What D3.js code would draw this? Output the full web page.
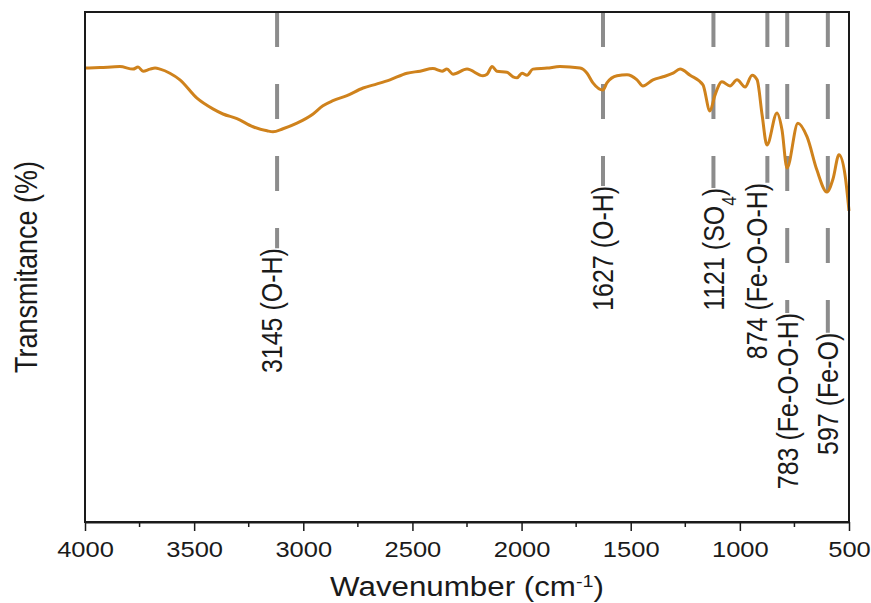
<!DOCTYPE html>
<html>
<head>
<meta charset="utf-8">
<title>FTIR spectrum</title>
<script src="https://cdn.jsdelivr.net/npm/d3@7"></script>
<style>
  body { margin: 0; background: #fff; }
  text { font-family: "Liberation Sans", Arial, sans-serif; fill: #1a1a1a; }
</style>
</head>
<body>
<svg id="chart" width="871" height="603"></svg>
<script>
// spectrum: wavenumber (cm-1) and transmittance (arbitrary %)
const wavenumber = [4000, 3931, 3840, 3780, 3757, 3734, 3702, 3679, 3656, 3611, 3565, 3487, 3414, 3368,
  3304, 3230, 3166, 3139, 3093, 3029, 2955, 2910, 2864, 2800, 2726, 2662, 2603, 2525, 2465, 2406,
  2364, 2342, 2314, 2250, 2177, 2158, 2135, 2113, 2067, 2039, 2021, 1998, 1975, 1948, 1883, 1824,
  1732, 1700, 1673, 1627, 1609, 1563, 1517, 1471, 1444, 1398, 1352, 1306, 1274, 1228, 1169, 1137,
  1114, 1082, 1045, 1013, 976, 944, 921, 898, 876, 830, 807, 784, 734, 692, 647, 601, 573, 546,
  518, 500];
const transmittance = [89.0, 89.1, 89.3, 88.8, 89.2, 88.4, 88.8, 89.0, 88.8, 88.0, 86.7, 83.1, 81.0, 80.0,
  79.1, 77.5, 76.7, 76.5, 77.1, 78.2, 80.0, 81.6, 82.6, 83.6, 85.1, 85.9, 86.7, 88.0, 88.4, 88.9,
  88.4, 88.8, 87.8, 88.8, 87.5, 87.8, 89.3, 88.4, 88.2, 87.3, 87.1, 88.0, 87.6, 88.8, 89.0, 89.3,
  89.0, 88.0, 86.1, 84.7, 86.1, 87.5, 87.7, 86.7, 85.5, 86.7, 87.3, 88.0, 88.8, 87.6, 85.7, 80.6,
  83.7, 86.3, 85.5, 86.7, 85.3, 87.6, 86.7, 79.8, 73.9, 80.2, 76.9, 69.4, 78.2, 75.5, 69.0, 64.7,
  67.3, 72.0, 68.0, 61.0];

// band assignments
const peakLabels = ["3145 (O-H)", "1627 (O-H)", "1121 (SO_4)", "874 (Fe-O-O-H)", "783 (Fe-O-O-H)", "597 (Fe-O)"];
const peakLine = [3120, 1627, 1121, 874, 783, 597];   // where the dashed marker sits
const peakText = [3145, 1627, 1121, 924, 783, 597];   // where the label sits
const peakTop = [53.7, 65.9, 65.5, 66.5, 41.0, 37.1]; // marker stops / label starts here

const xTicks = [4000, 3500, 3000, 2500, 2000, 1500, 1000, 500];
const xMinor = [3750, 3250, 2750, 2250, 1750, 1250, 750];

const svg = d3.select("#chart");
const plot = { left: 85, right: 849, top: 12, bottom: 522 };
const stretch = 1.16; // text in the figure is a little wide

const x = d3.scaleLinear().domain([4000, 500]).range([plot.left, plot.right]);
const y = d3.scaleLinear().domain([0, 100]).range([plot.bottom, plot.top]);

// dashed band markers
svg.selectAll(".marker")
  .data(peakLine)
  .enter().append("line")
    .attr("class", "marker")
    .attr("x1", d => x(d))
    .attr("x2", d => x(d))
    .attr("y1", plot.top)
    .attr("y2", (d, i) => y(peakTop[i]))
    .attr("stroke", "#8c8c8c")
    .attr("stroke-width", 4)
    .attr("stroke-dasharray", "35,37");

// band labels, reading upward
const labels = svg.selectAll(".peak")
  .data(peakLabels)
  .enter().append("text")
    .attr("class", "peak")
    .attr("text-anchor", "end")
    .style("font-size", "25px")
    .attr("transform", (d, i) =>
      "translate(" + (x(peakText[i]) + 10.5) + "," + y(peakTop[i]) + ") scale(" + stretch + ",1) rotate(-90)");
labels.each(function(d) {
  const parts = d.split(/_(\d)/);
  const t = d3.select(this);
  parts.forEach(function(p, k) {
    if (k % 2) {
      t.append("tspan").attr("baseline-shift", "sub").style("font-size", "17px").text(p);
    } else {
      t.append("tspan").text(p);
    }
  });
});

// spectrum
const line = d3.line()
  .x(d => x(d[0]))
  .y(d => y(d[1]))
  .curve(d3.curveMonotoneX);
svg.append("path")
  .datum(d3.zip(wavenumber, transmittance))
  .attr("d", line)
  .attr("fill", "none")
  .attr("stroke", "#cf821c")
  .attr("stroke-width", 3)
  .attr("stroke-linejoin", "round");

// frame
svg.append("rect")
  .attr("x", plot.left).attr("y", plot.top)
  .attr("width", plot.right - plot.left).attr("height", plot.bottom - plot.top)
  .attr("fill", "none")
  .attr("stroke", "#1a1a1a")
  .attr("stroke-width", 2);

// x axis
const gx = svg.append("g")
  .attr("transform", "translate(0," + plot.bottom + ")")
  .call(d3.axisBottom(x).tickValues(xTicks).tickSize(9).tickSizeOuter(0).tickFormat(d3.format("d")));
gx.select(".domain").attr("stroke", "#1a1a1a").attr("stroke-width", 2);
gx.selectAll(".tick line").attr("stroke", "#1a1a1a").attr("stroke-width", 1.5);
gx.selectAll(".tick text")
  .attr("y", 0).attr("dy", null)
  .attr("transform", "translate(0,35) scale(" + stretch + ",1)")
  .attr("fill", "#1a1a1a")
  .style("font-size", "22px")
  .style("font-family", "'Liberation Sans', Arial, sans-serif");
svg.append("g")
  .attr("transform", "translate(0," + plot.bottom + ")")
  .selectAll("line")
  .data(xMinor)
  .enter().append("line")
    .attr("x1", d => x(d)).attr("x2", d => x(d))
    .attr("y1", 0).attr("y2", 5)
    .attr("stroke", "#1a1a1a")
    .attr("stroke-width", 1.5);

// axis titles
const xTitle = svg.append("text")
  .attr("text-anchor", "middle")
  .attr("transform", "translate(" + ((plot.left + plot.right) / 2) + ",596) scale(" + stretch + ",1)")
  .style("font-size", "27px");
xTitle.append("tspan").text("Wavenumber (cm");
xTitle.append("tspan").attr("baseline-shift", "super").style("font-size", "17px").text("-1");
xTitle.append("tspan").text(")");

svg.append("text")
  .attr("text-anchor", "middle")
  .attr("transform", "translate(37," + ((plot.top + plot.bottom) / 2) + ") scale(" + stretch + ",1) rotate(-90)")
  .style("font-size", "27px")
  .text("Transmitance (%)");
</script>
</body>
</html>
